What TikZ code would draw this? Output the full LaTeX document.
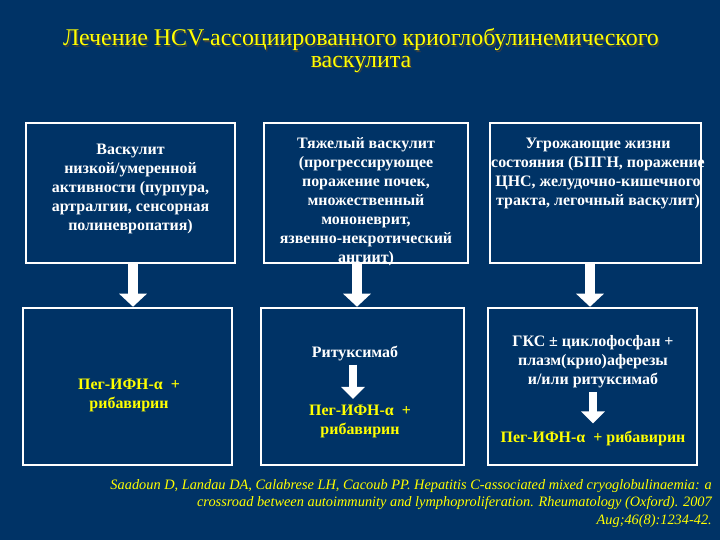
\documentclass[tikz,border=0pt]{standalone}
\usepackage{fontspec}
\setmainfont{Liberation Serif}
\usetikzlibrary{arrows.meta,positioning}
\definecolor{slidebg}{RGB}{0, 51, 102}
\definecolor{slideyel}{RGB}{255, 255, 0}
\newcommand{\titletext}{Лечение HCV-ассоциированного криоглобулинемического\\васкулита}

\begin{document}
\begin{tikzpicture}[x=1bp, y=-1bp,
    box/.style={draw=white, line width=2.5bp, inner sep=0pt},
    toptxt/.style={text=white, align=center, inner sep=0pt,
                   font=\fontsize{16}{19}\selectfont\bfseries},
    drugtxt/.style={text=slideyel, align=center, inner sep=0pt,
                    font=\fontsize{16}{19}\selectfont\bfseries},
    titletxt/.style={align=center, inner sep=0pt,
                     font=\fontsize{24}{21.5}\selectfont},
    bigarrow/.style={draw=white, line width=10bp,
                     -{Triangle[length=13bp, width=27bp]}},
    smallarrow/.style={draw=white, line width=8.5bp,
                       -{Triangle[length=12bp, width=23bp]}}]

    % fon slajda
    \fill[slidebg] (0,0) rectangle (720,540);
    \useasboundingbox (0,0) rectangle (720,540);

    % ==========================================================
    % zagolovok
    % ==========================================================
    \node[titletxt, text=black!75] (shadow) at (362.5,52) {\titletext};
    \node[titletxt, text=slideyel] (title) at (361,50.5) {\titletext};

    % ==========================================================
    % verhnij rjad: stepen' tjazhesti
    % ==========================================================
    \node[box, minimum width=209bp, minimum height=140bp] (b1) at (130.5,193) {};
    \node[box, minimum width=204bp, minimum height=140bp] (b2) at (366,193) {};
    \node[box, minimum width=211bp, minimum height=140bp] (b3) at (595.5,193) {};

    \node[toptxt, below=22bp of b1.north] (t1)
        {Васкулит\\низкой/умеренной\\активности (пурпура,\\артралгии, сенсорная\\полиневропатия)};
    \node[toptxt, below=16bp of b2.north] (t2)
        {Тяжелый васкулит\\(прогрессирующее\\поражение почек,\\множественный\\мононеврит,\\язвенно-некротический\\ангиит)};
    \node[toptxt, below=16bp of b3.north, xshift=2.5bp] (t3)
        {Угрожающие жизни\\состояния (БПГН, поражение\\ЦНС, желудочно-кишечного\\тракта, легочный васкулит)};

    % ==========================================================
    % nizhnij rjad: lechenie
    % ==========================================================
    \node[box, minimum width=209bp, minimum height=157bp] (b4) at (127.5,386.5) {};
    \node[box, minimum width=203bp, minimum height=157bp] (b5) at (362.5,386.5) {};
    \node[box, minimum width=209bp, minimum height=157bp] (b6) at (592.5,386.5) {};

    \node[drugtxt] (d4) at (129,395.5) {Пег-ИФН-α \ +\\рибавирин};

    \node[toptxt] (r5) at (355,354) {Ритуксимаб};
    \node[drugtxt] (d5) at (360,421.5) {Пег-ИФН-α \ +\\рибавирин};

    \node[toptxt] (r6) at (593,362) {ГКС ± циклофосфан +\\плазм(крио)аферезы\\и/или ритуксимаб};
    \node[drugtxt] (d6) at (593,438) {Пег-ИФН-α \ + рибавирин};

    % strelki
    \draw[bigarrow] ([xshift=2.5bp]b1.south) -- ([xshift=2.5bp]b1.south |- b4.north);
    \draw[bigarrow] ([xshift=-9bp]b2.south) -- ([xshift=-9bp]b2.south |- b5.north);
    \draw[bigarrow] ([xshift=-5.5bp]b3.south) -- ([xshift=-5.5bp]b3.south |- b6.north);

    \draw[smallarrow, shorten <=3bp, shorten >=6bp]
        ([xshift=-2bp]r5.south) -- ([xshift=-2bp]r5.south |- d5.north);
    \draw[smallarrow, shorten <=4bp, shorten >=7bp] (r6.south) -- (r6.south |- d6.north);

    % ==========================================================
    % istochnik
    % ==========================================================
    \node[text=slideyel, align=right, anchor=north east, inner sep=0pt,
          font=\fontsize{14.4}{17.5}\selectfont\itshape] (cite) at (712,479)
        {Saadoun D, Landau DA, Calabrese LH, Cacoub PP. Hepatitis C-associated mixed cryoglobulinaemia: a\\
         crossroad between autoimmunity and lymphoproliferation. Rheumatology (Oxford). 2007\\
         Aug;46(8):1234-42.};

\end{tikzpicture}
\end{document}
